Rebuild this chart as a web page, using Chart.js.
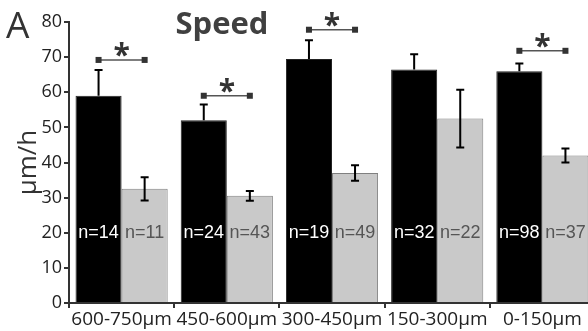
<!DOCTYPE html>
<html>
<head>
<meta charset="utf-8">
<script src="https://cdn.jsdelivr.net/npm/chart.js@4.4.1/dist/chart.umd.min.js"></script>
<style>
  html, body { margin: 0; padding: 0; background: #fff; overflow: hidden; }
  /* el original esta recortado por la derecha: el canvas es algo mas ancho */
  #wrap { width: 588px; height: 331px; overflow: hidden; }
</style>
</head>
<body>
<div id="wrap"><canvas id="speedChart" width="595" height="331"></canvas></div>
<script>
// datos
const categories = ['600-750μm', '450-600μm', '300-450μm', '150-300μm', '0-150μm'];
const blackValues = [59, 52, 69.5, 66.5, 66];
const blackErr = [7.3, 4.5, 5.3, 4.3, 2.2];
const grayValues = [32.5, 30.5, 37, 52.5, 42];
const grayErr = [3.3, 1.4, 2.2, 8.2, 2];
const blackN = [14, 24, 19, 32, 98];
const grayN = [11, 43, 49, 22, 37];
const sigGroups = [0, 1, 2, 4];
const sigLevels = [69.2, 59, 77.8, 71.8];
const nLabelLevel = 20;

const axisColor = '#333';

// barras de error, etiquetas n= y marcas de significancia
const overlayPlugin = {
    id: 'overlay',
    afterDatasetsDraw(chart) {
        const ctx = chart.ctx;
        const y = chart.scales.y;
        const metaBlack = chart.getDatasetMeta(0);
        const metaGray = chart.getDatasetMeta(1);
        ctx.save();
        ctx.strokeStyle = '#000';
        ctx.lineWidth = 2;
        const cap = 4;
        categories.forEach((c, i) => {
            // negro: solo la parte superior es visible
            let bx = metaBlack.data[i].x;
            let top = y.getPixelForValue(blackValues[i] + blackErr[i]);
            let base = y.getPixelForValue(blackValues[i]);
            ctx.beginPath();
            ctx.moveTo(bx, base); ctx.lineTo(bx, top);
            ctx.moveTo(bx - cap, top); ctx.lineTo(bx + cap, top);
            ctx.stroke();
            // gris
            let gx = metaGray.data[i].x;
            let gt = y.getPixelForValue(grayValues[i] + grayErr[i]);
            let gb = y.getPixelForValue(grayValues[i] - grayErr[i]);
            ctx.beginPath();
            ctx.moveTo(gx, gb); ctx.lineTo(gx, gt);
            ctx.moveTo(gx - cap, gt); ctx.lineTo(gx + cap, gt);
            ctx.moveTo(gx - cap, gb); ctx.lineTo(gx + cap, gb);
            ctx.stroke();
        });

        // etiquetas n=
        ctx.font = '18px "Liberation Sans", Arial, sans-serif';
        ctx.textAlign = 'center';
        ctx.textBaseline = 'middle';
        const ny = y.getPixelForValue(nLabelLevel);
        categories.forEach((c, i) => {
            ctx.fillStyle = '#fff';
            ctx.fillText('n=' + blackN[i], metaBlack.data[i].x, ny);
            ctx.fillStyle = '#555';
            ctx.fillText('n=' + grayN[i], metaGray.data[i].x, ny);
        });

        // significancia
        sigGroups.forEach((g, k) => {
            const x1 = metaBlack.data[g].x;
            const x2 = metaGray.data[g].x;
            const ly = y.getPixelForValue(sigLevels[k]);
            ctx.strokeStyle = '#555';
            ctx.lineWidth = 1.5;
            ctx.beginPath();
            ctx.moveTo(x1, ly); ctx.lineTo(x2, ly);
            ctx.stroke();
            ctx.fillStyle = '#333';
            ctx.fillRect(x1 - 3, ly - 3, 6, 6);
            ctx.fillRect(x2 - 3, ly - 3, 6, 6);
            ctx.font = 'bold 30px "Open Sans", sans-serif';
            ctx.textBaseline = 'alphabetic';
            ctx.fillStyle = '#333';
            ctx.fillText('*', (x1 + x2) / 2, ly + 5);
        });
        ctx.restore();
    },
    afterDraw(chart) {
        const ctx = chart.ctx;
        ctx.save();
        ctx.fillStyle = '#333';
        ctx.textBaseline = 'alphabetic';
        ctx.textAlign = 'left';
        ctx.font = '37px "Open Sans", sans-serif';
        ctx.fillText('A', 6, 38);
        ctx.fillStyle = '#404040';
        ctx.textAlign = 'center';
        ctx.font = 'bold 31px "Open Sans", sans-serif';
        ctx.fillText('Speed', 222, 34);
        ctx.restore();
    }
};

const ctx = document.getElementById('speedChart').getContext('2d');
new Chart(ctx, {
    type: 'bar',
    data: {
        labels: categories,
        datasets: [
            {
                data: blackValues,
                backgroundColor: '#000',
                borderColor: '#222',
                borderWidth: 1,
                categoryPercentage: 0.876,
                barPercentage: 1.0
            },
            {
                data: grayValues,
                backgroundColor: '#c9c9c9',
                borderColor: '#808080',
                borderWidth: 1,
                categoryPercentage: 0.876,
                barPercentage: 1.0
            }
        ]
    },
    options: {
        responsive: false,
        animation: false,
        layout: { padding: { top: 22, left: 0, right: 0, bottom: 0 } },
        plugins: {
            legend: { display: false },
            tooltip: { enabled: false }
        },
        scales: {
            x: {
                afterFit: (scale) => { scale.height = 28; },
                grid: {
                    offset: true,
                    drawOnChartArea: false,
                    tickLength: 5,
                    color: axisColor,
                    lineWidth: 2
                },
                border: { color: axisColor, width: 2 },
                ticks: {
                    color: '#222',
                    padding: 0,
                    maxRotation: 0,
                    autoSkip: false,
                    font: { family: 'Open Sans', size: 19 }
                }
            },
            y: {
                min: 0,
                max: 80,
                afterFit: (scale) => { scale.width = 69; },
                grid: {
                    drawOnChartArea: false,
                    tickLength: 5,
                    color: axisColor,
                    lineWidth: 2
                },
                border: { color: axisColor, width: 2 },
                ticks: {
                    stepSize: 10,
                    color: '#222',
                    padding: 2,
                    font: { family: 'Open Sans', size: 18 }
                },
                title: {
                    display: true,
                    text: 'μm/h',
                    color: '#333',
                    padding: { top: 13 },
                    font: { family: 'Open Sans', size: 26 }
                }
            }
        }
    },
    plugins: [overlayPlugin]
});
</script>
</body>
</html>
